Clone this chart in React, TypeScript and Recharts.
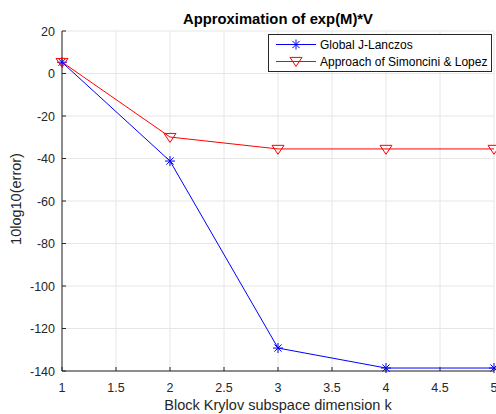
import React from "react";
import { LineChart, Line, XAxis, YAxis, CartesianGrid } from "recharts";

const dims = [1, 2, 3, 4, 5];
const globalLanczos = [5.3, -41.2, -129.2, -138.6, -138.6];
const simonciniLopez = [5.4, -29.9, -35.5, -35.5, -35.5];
const xTicks = [1, 1.5, 2, 2.5, 3, 3.5, 4, 4.5, 5];
const yTicks = [-140, -120, -100, -80, -60, -40, -20, 0, 20];

const data = dims.map((k, i) => ({ k, g: globalLanczos[i], s: simonciniLopez[i] }));

const FONT = "'Liberation Sans', Arial, Helvetica, sans-serif";
const AX = "#262626";

const Star = (props: any) => {
  const { cx, cy } = props;
  if (cx == null || cy == null) return null;
  const r = 5;
  const d = r * 0.72;
  return (
    <g stroke="#0000ff" strokeWidth={1}>
      <line x1={cx - r} y1={cy} x2={cx + r} y2={cy} />
      <line x1={cx} y1={cy - r} x2={cx} y2={cy + r} />
      <line x1={cx - d} y1={cy - d} x2={cx + d} y2={cy + d} />
      <line x1={cx - d} y1={cy + d} x2={cx + d} y2={cy - d} />
    </g>
  );
};

const Tri = (props: any) => {
  const { cx, cy } = props;
  if (cx == null || cy == null) return null;
  const r = 6;
  return (
    <polygon
      points={`${cx - r},${cy - r * 0.6} ${cx + r},${cy - r * 0.6} ${cx},${cy + r * 0.9}`}
      fill="none"
      stroke="#ff0000"
      strokeWidth={1}
    />
  );
};

// MATLAB style: ticks point into the plot
const XTick = (props: any) => {
  const { x, y, payload } = props;
  return (
    <g>
      <line x1={x} y1={y} x2={x} y2={y - 4} stroke={AX} />
      <text x={x} y={y + 21} textAnchor="middle" fontSize={12.5} fill={AX} fontFamily={FONT}>
        {payload.value}
      </text>
    </g>
  );
};

const YTick = (props: any) => {
  const { x, y, payload } = props;
  return (
    <g>
      <line x1={x} y1={y} x2={x + 4} y2={y} stroke={AX} />
      <text x={x - 7} y={y + 4.5} textAnchor="end" fontSize={12.5} fill={AX} fontFamily={FONT}>
        {payload.value}
      </text>
    </g>
  );
};

const XLabel = (props: any) => {
  const { viewBox } = props;
  return (
    <text
      x={viewBox.x + viewBox.width / 2}
      y={viewBox.y + 39}
      textAnchor="middle"
      fontSize={14.5}
      fill={AX}
      fontFamily={FONT}
    >
      Block Krylov subspace dimension k
    </text>
  );
};

const YLabel = (props: any) => {
  const { viewBox } = props;
  const cx = viewBox.x + 21;
  const cy = viewBox.y + viewBox.height / 2 - 2;
  return (
    <text
      x={cx}
      y={cy}
      transform={`rotate(-90 ${cx} ${cy})`}
      textAnchor="middle"
      fontSize={14.5}
      fill={AX}
      fontFamily={FONT}
    >
      10log10(error)
    </text>
  );
};

const LegendBox = () => (
  <div
    style={{
      position: "absolute",
      left: 268,
      top: 34,
      width: 222,
      height: 35,
      border: "1px solid #262626",
      background: "#fff",
      fontFamily: FONT,
      fontSize: 12,
      color: "#000",
      paddingTop: 1,
    }}
  >
    <div style={{ display: "flex", alignItems: "center", height: 17 }}>
      <svg width={51} height={17}>
        <line x1={7} y1={8.5} x2={47} y2={8.5} stroke="#0000ff" />
        <Star cx={27} cy={8.5} />
      </svg>
      <span>Global J-Lanczos</span>
    </div>
    <div style={{ display: "flex", alignItems: "center", height: 17 }}>
      <svg width={51} height={17}>
        <line x1={7} y1={8.5} x2={47} y2={8.5} stroke="#ff0000" />
        <Tri cx={27} cy={8} />
      </svg>
      <span>Approach of Simoncini &amp; Lopez</span>
    </div>
  </div>
);

export default function App() {
  return (
    <div style={{ position: "absolute", left: 0, top: 0, width: 496, height: 414, background: "#fff" }}>
      <div
        style={{
          position: "absolute",
          left: 62,
          width: 432,
          top: 11,
          textAlign: "center",
          fontFamily: FONT,
          fontWeight: "bold",
          fontSize: 14.8,
          color: "#000",
        }}
      >
        Approximation of exp(M)*V
      </div>
      <LineChart width={496} height={414} data={data} margin={{ top: 31, right: 2, bottom: 0, left: 0 }}>
        <CartesianGrid stroke="#e6e6e6" vertical horizontal />
        <XAxis
          dataKey="k"
          type="number"
          domain={[1, 5]}
          ticks={xTicks}
          interval={0}
          height={43}
          stroke={AX}
          tickLine={false}
          tickSize={0}
          tickMargin={0}
          tick={<XTick />}
          label={<XLabel />}
        />
        <YAxis
          type="number"
          domain={[-140, 20]}
          ticks={yTicks}
          interval={0}
          width={62}
          stroke={AX}
          tickLine={false}
          tickSize={0}
          tickMargin={0}
          tick={<YTick />}
          label={<YLabel />}
        />
        <Line
          dataKey="g"
          name="Global J-Lanczos"
          stroke="#0000ff"
          strokeWidth={1}
          dot={<Star />}
          activeDot={false}
          isAnimationActive={false}
        />
        <Line
          dataKey="s"
          name="Approach of Simoncini & Lopez"
          stroke="#ff0000"
          strokeWidth={1}
          dot={<Tri />}
          activeDot={false}
          isAnimationActive={false}
        />
      </LineChart>
      <LegendBox />
    </div>
  );
}
